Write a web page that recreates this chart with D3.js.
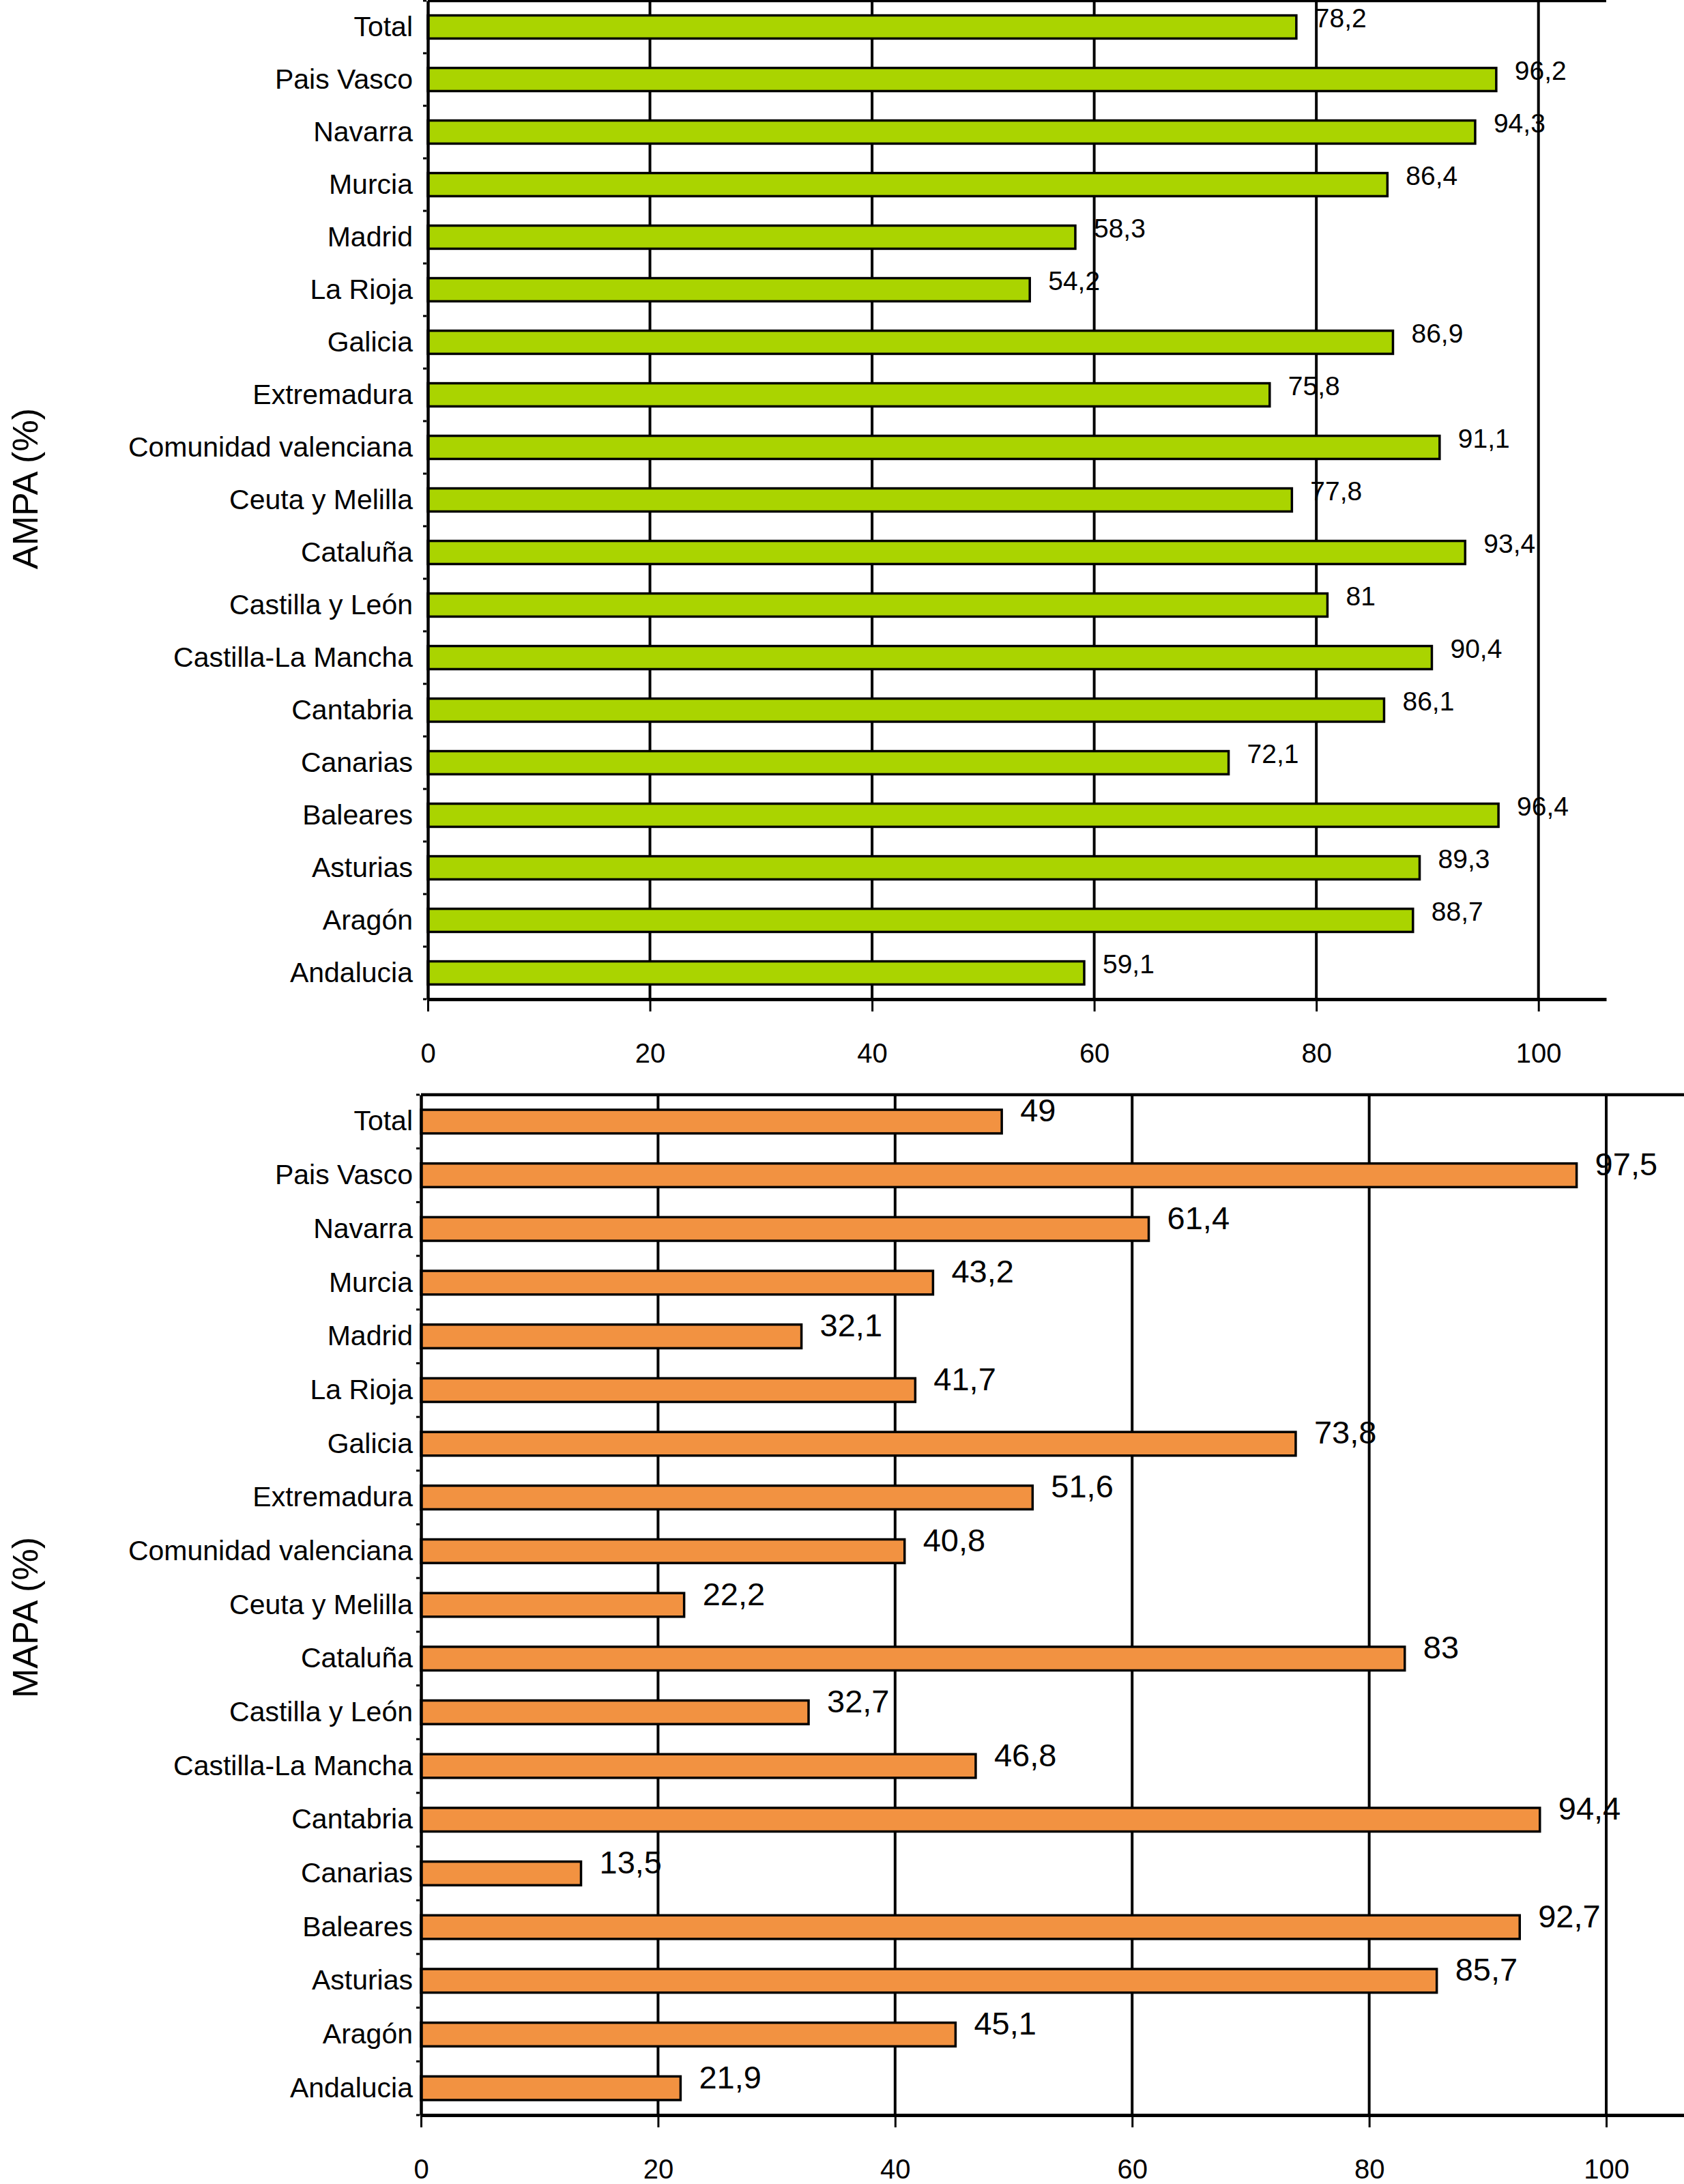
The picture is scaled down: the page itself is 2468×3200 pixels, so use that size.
<!DOCTYPE html>
<html>
<head>
<meta charset="utf-8">
<script src="https://cdn.jsdelivr.net/npm/d3@7"></script>
<style>
  body { margin: 0; background: #fff; }
  text { font-family: "Liberation Sans", Arial, sans-serif; fill: #000; }
</style>
</head>
<body>
<svg id="chart"></svg>
<script>
// regions, top to bottom as in the figure
const categories = ['Total', 'Pais Vasco', 'Navarra', 'Murcia', 'Madrid', 'La Rioja', 'Galicia',
  'Extremadura', 'Comunidad valenciana', 'Ceuta y Melilla', 'Cataluña', 'Castilla y León',
  'Castilla-La Mancha', 'Cantabria', 'Canarias', 'Baleares', 'Asturias', 'Aragón', 'Andalucia'];

const ampaValues = [78.2, 96.2, 94.3, 86.4, 58.3, 54.2, 86.9, 75.8, 91.1, 77.8,
  93.4, 81, 90.4, 86.1, 72.1, 96.4, 89.3, 88.7, 59.1];

const mapaValues = [49, 97.5, 61.4, 43.2, 32.1, 41.7, 73.8, 51.6, 40.8, 22.2,
  83, 32.7, 46.8, 94.4, 13.5, 92.7, 85.7, 45.1, 21.9];

const xTicks = [0, 20, 40, 60, 80, 100];

const width = 2468, height = 3200;

const svg = d3.select('#chart')
  .attr('width', width)
  .attr('height', height);

svg.append('rect').attr('width', width).attr('height', height).attr('fill', '#fff');

const fmt = v => String(v).replace('.', ',');

function drawPanel(cfg) {
  const x = d3.scaleLinear()
    .domain([0, cfg.xMax])
    .range([cfg.left, cfg.right]);

  const y = d3.scaleBand()
    .domain(categories)
    .range([cfg.top, cfg.bottom])
    .paddingInner(0.56)
    .paddingOuter(0.28);

  const g = svg.append('g');

  // vertical grid lines
  g.selectAll('line.grid')
    .data(xTicks.slice(1))
    .join('line')
    .attr('class', 'grid')
    .attr('x1', d => x(d)).attr('x2', d => x(d))
    .attr('y1', cfg.top).attr('y2', cfg.bottom)
    .attr('stroke', '#000')
    .attr('stroke-width', 4);

  // top frame line
  g.append('line')
    .attr('x1', cfg.left).attr('x2', cfg.right)
    .attr('y1', cfg.top).attr('y2', cfg.top)
    .attr('stroke', '#000')
    .attr('stroke-width', 4.5);

  // small marks between categories
  g.selectAll('line.sep')
    .data(d3.range(categories.length + 1))
    .join('line')
    .attr('class', 'sep')
    .attr('x1', cfg.left - 7).attr('x2', cfg.left - 2)
    .attr('y1', i => cfg.top + i * y.step())
    .attr('y2', i => cfg.top + i * y.step())
    .attr('stroke', '#000')
    .attr('stroke-width', 3);

  // bars
  g.selectAll('rect.bar')
    .data(cfg.values)
    .join('rect')
    .attr('class', 'bar')
    .attr('x', x(0))
    .attr('y', (d, i) => y(categories[i]))
    .attr('width', d => x(d) - x(0))
    .attr('height', y.bandwidth())
    .attr('fill', cfg.color)
    .attr('stroke', '#000')
    .attr('stroke-width', 3.5);

  // value labels
  g.selectAll('text.val')
    .data(cfg.values)
    .join('text')
    .attr('class', 'val')
    .attr('x', d => x(d) + 27)
    .attr('y', (d, i) => y(categories[i]) + y.bandwidth() / 2)
    .attr('font-size', cfg.valueSize)
    .text(fmt);

  // x axis
  const xAxis = d3.axisBottom(x)
    .tickValues(xTicks)
    .tickSize(18)
    .tickSizeOuter(0)
    .tickPadding(47);

  const ax = g.append('g')
    .attr('transform', `translate(0,${cfg.bottom})`)
    .call(xAxis);
  ax.select('.domain').attr('stroke-width', 5);
  ax.selectAll('.tick line').attr('stroke-width', 3);
  ax.selectAll('.tick text')
    .attr('font-size', 40)
    .attr('font-family', '"Liberation Sans", Arial, sans-serif');

  // y axis with region names
  const yAxis = d3.axisLeft(y)
    .tickSize(0)
    .tickPadding(cfg.labelGap);

  const ay = g.append('g')
    .attr('transform', `translate(${cfg.left},0)`)
    .call(yAxis);
  ay.select('.domain').attr('stroke-width', 4.5);
  ay.selectAll('.tick text')
    .attr('font-size', 41)
    .attr('font-family', '"Liberation Sans", Arial, sans-serif');

  // rotated title
  svg.append('text')
    .attr('transform', `translate(55,${cfg.titleY}) rotate(-90)`)
    .attr('text-anchor', 'middle')
    .attr('font-size', 52)
    .text(cfg.title);
}

drawPanel({
  values: ampaValues,
  color: '#aad400',
  title: 'AMPA (%)',
  titleY: 716,
  left: 627, right: 2354, xMax: 106.1,
  top: 1, bottom: 1464,
  labelGap: 22,
  valueSize: 39
});

drawPanel({
  values: mapaValues,
  color: '#f29241',
  title: 'MAPA (%)',
  titleY: 2370,
  left: 617, right: 2468, xMax: 106.56,
  top: 1604, bottom: 3099,
  labelGap: 12,
  valueSize: 47
});
</script>
</body>
</html>
